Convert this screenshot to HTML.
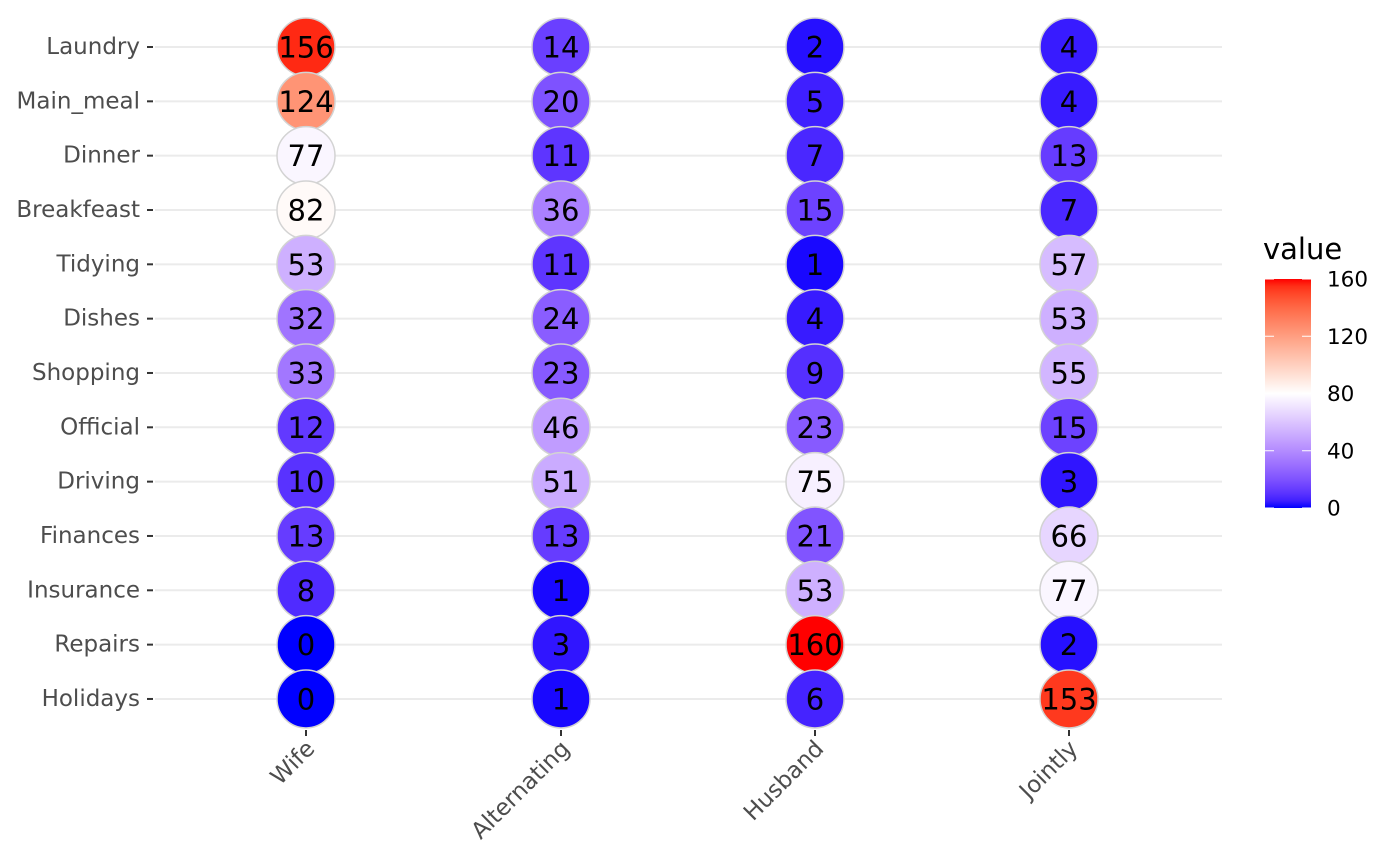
<!DOCTYPE html>
<html><head><meta charset="utf-8"><style>
body{margin:0;background:#fff;}
svg{display:block;font-family:"DejaVu Sans","Liberation Sans",sans-serif;}
</style></head><body>
<svg id="s" width="1400" height="866" xmlns="http://www.w3.org/2000/svg"></svg>
<script>
function s2l(c){c/=255;return c<=0.04045?c/12.92:Math.pow((c+0.055)/1.055,2.4);}
function l2s(c){c=c<=0.0031308?12.92*c:1.055*Math.pow(c,1/2.4)-0.055;return Math.max(0,Math.min(255,Math.round(c*255)));}
function toLab(r,g,b){r=s2l(r);g=s2l(g);b=s2l(b);
var x=(r*0.4124+g*0.3576+b*0.1805)/0.95047,y=r*0.2126+g*0.7152+b*0.0722,z=(r*0.0193+g*0.1192+b*0.9505)/1.08883;
function f(t){return t>0.008856?Math.cbrt(t):7.787*t+16/116;}
return [116*f(y)-16,500*(f(x)-f(y)),200*(f(y)-f(z))];}
function fromLab(L,a,b){var fy=(L+16)/116,fx=fy+a/500,fz=fy-b/200;
function fi(t){return t*t*t>0.008856?t*t*t:(t-16/116)/7.787;}
var x=fi(fx)*0.95047,y=fi(fy),z=fi(fz)*1.08883;
var r=3.2406*x-1.5372*y-0.4986*z,g=-0.9689*x+1.8758*y+0.0415*z,bb=0.0557*x-0.2040*y+1.0570*z;
return "rgb("+l2s(r)+","+l2s(g)+","+l2s(bb)+")";}
var B=toLab(0,0,255),W=toLab(255,255,255),R=toLab(255,0,0);
function col(v){var a,b,t;if(v<80){a=B;b=W;t=v/80;}else{a=W;b=R;t=(v-80)/80;}
return fromLab(a[0]+(b[0]-a[0])*t,a[1]+(b[1]-a[1])*t,a[2]+(b[2]-a[2])*t);}
var rows=["Laundry","Main_meal","Dinner","Breakfeast","Tidying","Dishes","Shopping","Official","Driving","Finances","Insurance","Repairs","Holidays"];
var cols=["Wife","Alternating","Husband","Jointly"];
var data=[[156,14,2,4],[124,20,5,4],[77,11,7,13],[82,36,15,7],[53,11,1,57],[32,24,4,53],[33,23,9,55],[12,46,23,15],[10,51,75,3],[13,13,21,66],[8,1,53,77],[0,3,160,2],[0,1,6,153]];
var cx=[306,561,815,1069];
var h="";
for(var i=0;i<13;i++){var y=47+i*54.33;
h+='<line x1="155" x2="1222" y1="'+y+'" y2="'+y+'" stroke="#ebebeb" stroke-width="2"/>';
h+='<line x1="147" x2="153" y1="'+y+'" y2="'+y+'" stroke="#333" stroke-width="2"/>';
h+='<text x="140" y="'+(y+7)+'" text-anchor="end" font-size="23" fill="#4d4d4d">'+rows[i]+'</text>';}
for(var j=0;j<4;j++){h+='<line x1="'+cx[j]+'" x2="'+cx[j]+'" y1="730" y2="736" stroke="#333" stroke-width="2"/>';
h+='<text transform="translate('+(cx[j]+10)+',750) rotate(-45)" text-anchor="end" font-size="23" fill="#4d4d4d">'+cols[j]+'</text>';}
for(var i=0;i<13;i++)for(var j=0;j<4;j++){var y=47+i*54.33,v=data[i][j];
h+='<circle cx="'+cx[j]+'" cy="'+y+'" r="29" fill="'+col(v)+'" stroke="#d3d3d3" stroke-width="1.5"/>';
h+='<text x="'+cx[j]+'" y="'+(y+10.5)+'" text-anchor="middle" font-size="29" fill="#000">'+v+'</text>';}
var st="";for(var k=0;k<=32;k++){var v=k*5;st+='<stop offset="'+(k/32)+'" stop-color="'+col(160-v)+'"/>';}
h+='<defs><linearGradient id="g" x1="0" y1="0" x2="0" y2="1">'+st+'</linearGradient></defs>';
h+='<rect x="1265" y="279" width="46" height="229" fill="url(#g)"/>';
h+='<text x="1263" y="259" font-size="29" fill="#000">value</text>';
var lv=[0,40,80,120,160];
for(var k=0;k<5;k++){var y=508-lv[k]/160*229;
h+='<line x1="1265" x2="1274" y1="'+y+'" y2="'+y+'" stroke="#fff" stroke-width="1"/><line x1="1302" x2="1311" y1="'+y+'" y2="'+y+'" stroke="#fff" stroke-width="1"/>';
h+='<text x="1327" y="'+(y+7.5)+'" font-size="21.5" fill="#000">'+lv[k]+'</text>';}
document.getElementById("s").innerHTML=h;
</script>
</body></html>
